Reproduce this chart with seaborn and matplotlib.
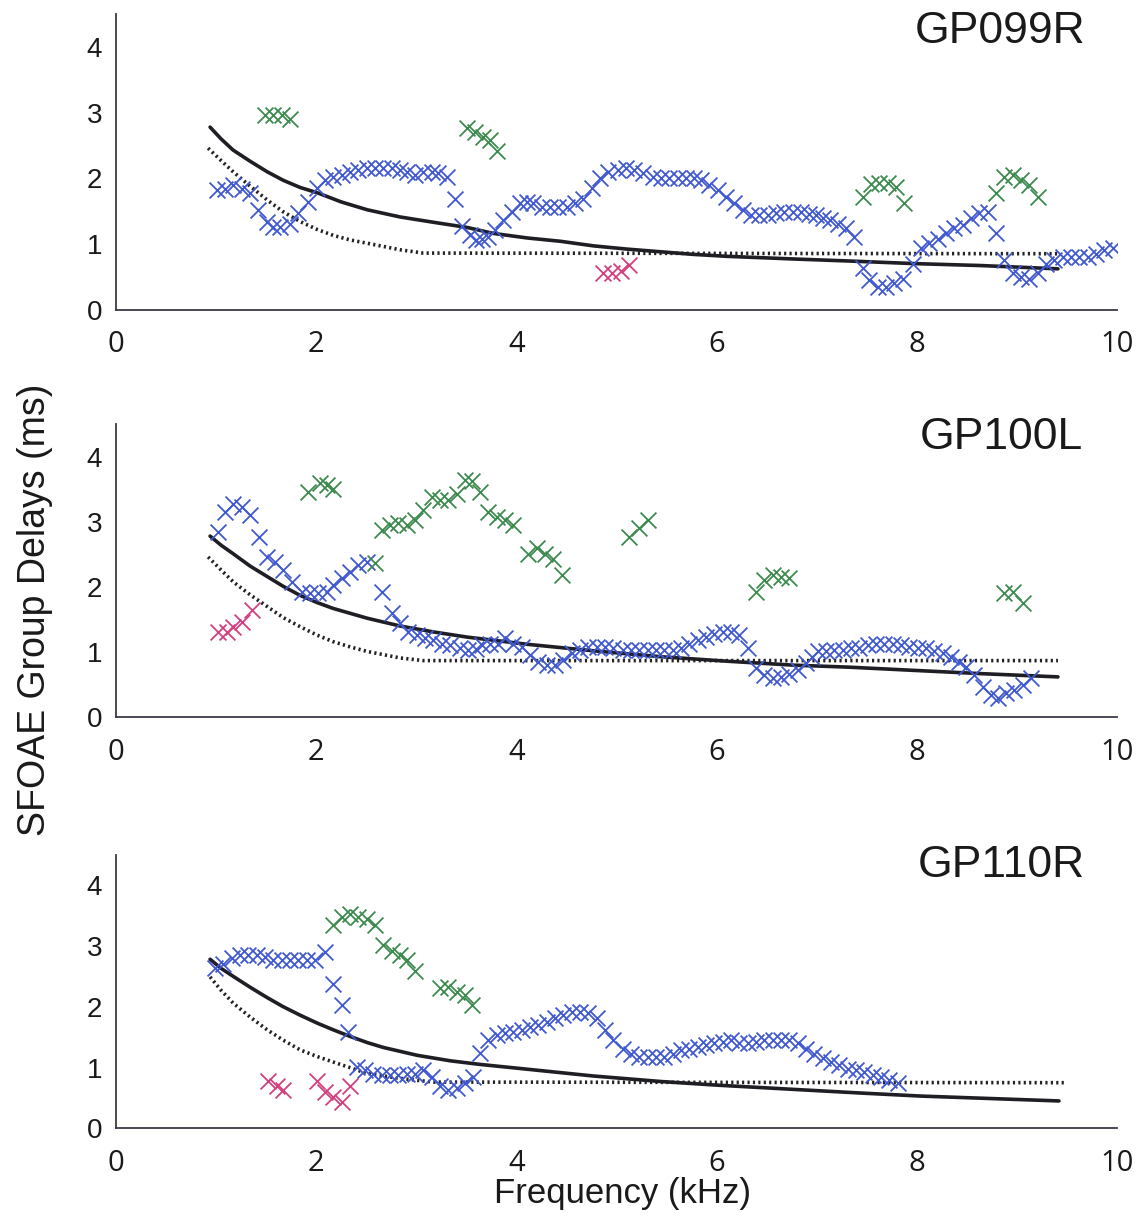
import matplotlib
matplotlib.use("Agg")
import matplotlib.pyplot as plt
import seaborn as sns
import pandas as pd

# ---------------- data ----------------
panel_names = ["GP099R", "GP100L", "GP110R"]

# GP099R
p1_blue_f = [1.01, 1.09, 1.17, 1.26, 1.34, 1.42, 1.51, 1.57, 1.64, 1.74, 1.82, 1.92, 2.01, 2.09, 2.17, 2.26,
             2.34, 2.42, 2.51, 2.59, 2.67, 2.76, 2.84, 2.91, 2.99, 3.07, 3.16, 3.22, 3.31, 3.39, 3.46, 3.54,
             3.60, 3.66, 3.72, 3.79, 3.87, 3.96, 4.04, 4.11, 4.17, 4.26, 4.34, 4.42, 4.51, 4.59, 4.67, 4.76,
             4.84, 4.92, 5.01, 5.09, 5.17, 5.26, 5.36, 5.44, 5.52, 5.61, 5.69, 5.77, 5.84, 5.92, 6.01, 6.09,
             6.17, 6.26, 6.34, 6.42, 6.51, 6.59, 6.67, 6.76, 6.84, 6.92, 6.99, 7.06, 7.13, 7.21, 7.29, 7.37,
             7.46, 7.52, 7.61, 7.69, 7.77, 7.86, 7.96, 8.04, 8.12, 8.21, 8.29, 8.37, 8.46, 8.54, 8.62, 8.71,
             8.79, 8.87, 8.96, 9.04, 9.12, 9.21, 9.29, 9.37, 9.46, 9.54, 9.62, 9.71, 9.79, 9.87, 9.96]
p1_blue_d = [1.82, 1.84, 1.90, 1.84, 1.77, 1.52, 1.34, 1.26, 1.26, 1.31, 1.47, 1.64, 1.85, 1.97, 2.02, 2.05,
             2.10, 2.13, 2.15, 2.15, 2.15, 2.15, 2.13, 2.10, 2.05, 2.09, 2.09, 2.08, 2.02, 1.69, 1.27, 1.13,
             1.06, 1.08, 1.11, 1.21, 1.36, 1.49, 1.62, 1.64, 1.62, 1.57, 1.57, 1.57, 1.57, 1.62, 1.69, 1.85,
             2.00, 2.10, 2.13, 2.15, 2.13, 2.08, 2.02, 2.00, 2.00, 2.00, 2.00, 2.00, 1.97, 1.90, 1.82, 1.72,
             1.62, 1.52, 1.44, 1.44, 1.44, 1.47, 1.49, 1.49, 1.49, 1.46, 1.44, 1.39, 1.36, 1.31, 1.24, 1.11,
             0.63, 0.45, 0.35, 0.35, 0.40, 0.47, 0.70, 0.93, 1.01, 1.08, 1.16, 1.24, 1.29, 1.39, 1.47, 1.49,
             1.16, 0.75, 0.55, 0.50, 0.47, 0.55, 0.70, 0.75, 0.80, 0.80, 0.80, 0.80, 0.85, 0.90, 0.93]
p1_green_f = [1.49, 1.57, 1.66, 1.74, 3.51, 3.59, 3.67, 3.74, 3.81, 7.46, 7.54, 7.62, 7.71, 7.79, 7.87,
              8.79, 8.87, 8.96, 9.04, 9.12, 9.21]
p1_green_d = [2.96, 2.96, 2.96, 2.91, 2.77, 2.70, 2.63, 2.58, 2.41, 1.72, 1.92, 1.93, 1.93, 1.86, 1.62,
              1.77, 2.02, 2.05, 1.97, 1.90, 1.72]
p1_mag_f = [4.87, 4.96, 5.04, 5.12]
p1_mag_d = [0.55, 0.55, 0.58, 0.68]
p1_solid_f = [0.94, 1.05, 1.17, 1.34, 1.51, 1.67, 1.84, 2.01, 2.25, 2.51, 2.84, 3.17, 3.51, 3.77, 4.11, 4.44,
              4.77, 5.11, 5.44, 5.77, 6.11, 6.44, 6.77, 7.31, 7.97, 8.64, 9.41]
p1_solid_d = [2.78, 2.60, 2.43, 2.26, 2.10, 1.97, 1.86, 1.78, 1.64, 1.52, 1.41, 1.33, 1.25, 1.16, 1.09, 1.04,
              0.97, 0.92, 0.88, 0.84, 0.81, 0.79, 0.77, 0.74, 0.70, 0.67, 0.62]
p1_dot_f = [0.92, 1.05, 1.17, 1.34, 1.51, 1.67, 1.84, 2.01, 2.17, 2.34, 2.51, 2.84, 3.07, 9.41]
p1_dot_d = [2.46, 2.27, 2.10, 1.88, 1.67, 1.49, 1.34, 1.22, 1.13, 1.06, 1.01, 0.91, 0.86, 0.85]

# GP100L
p2_blue_f = [1.02, 1.09, 1.17, 1.26, 1.34, 1.43, 1.51, 1.59, 1.67, 1.76, 1.86, 1.94, 2.02, 2.11, 2.17, 2.26,
             2.34, 2.42, 2.51, 2.66, 2.76, 2.84, 2.92, 3.01, 3.09, 3.17, 3.26, 3.34, 3.44, 3.52, 3.60, 3.66,
             3.74, 3.82, 3.89, 3.97, 4.06, 4.14, 4.22, 4.31, 4.39, 4.47, 4.56, 4.64, 4.72, 4.81, 4.89, 4.97,
             5.06, 5.14, 5.22, 5.31, 5.39, 5.47, 5.56, 5.64, 5.72, 5.81, 5.89, 5.97, 6.06, 6.14, 6.22, 6.31,
             6.39, 6.47, 6.56, 6.64, 6.72, 6.81, 6.89, 6.95, 7.01, 7.09, 7.17, 7.26, 7.34, 7.42, 7.51, 7.59,
             7.67, 7.76, 7.84, 7.92, 8.01, 8.09, 8.17, 8.26, 8.34, 8.42, 8.49, 8.57, 8.66, 8.74, 8.81, 8.89,
             8.97, 9.06, 9.14]
p2_blue_d = [2.85, 3.15, 3.28, 3.23, 3.10, 2.77, 2.46, 2.39, 2.26, 2.08, 1.93, 1.90, 1.90, 1.93, 2.03, 2.13,
             2.23, 2.34, 2.39, 1.93, 1.60, 1.44, 1.31, 1.26, 1.21, 1.18, 1.13, 1.11, 1.06, 1.03, 1.05, 1.11,
             1.13, 1.13, 1.21, 1.13, 1.08, 0.95, 0.85, 0.80, 0.80, 0.88, 0.98, 1.03, 1.08, 1.08, 1.08, 1.06,
             1.03, 1.03, 1.03, 1.03, 1.03, 1.03, 1.03, 1.06, 1.13, 1.18, 1.23, 1.28, 1.31, 1.31, 1.26, 1.06,
             0.75, 0.65, 0.60, 0.62, 0.67, 0.72, 0.83, 0.93, 1.01, 1.01, 1.03, 1.03, 1.06, 1.06, 1.11, 1.13,
             1.13, 1.13, 1.11, 1.08, 1.06, 1.06, 1.01, 0.98, 0.93, 0.85, 0.77, 0.65, 0.47, 0.34, 0.29, 0.37,
             0.42, 0.49, 0.60]
p2_green_f = [1.92, 2.04, 2.11, 2.17, 2.59, 2.66, 2.74, 2.82, 2.91, 2.99, 3.07, 3.16, 3.24, 3.32, 3.41, 3.49,
              3.56, 3.64, 3.72, 3.81, 3.89, 3.97, 4.12, 4.21, 4.29, 4.37, 4.46, 5.12, 5.22, 5.31,
              6.39, 6.47, 6.56, 6.64, 6.72, 8.87, 8.96, 9.06]
p2_green_d = [3.46, 3.59, 3.56, 3.51, 2.36, 2.87, 2.95, 2.98, 2.95, 3.03, 3.18, 3.38, 3.33, 3.33, 3.43, 3.64,
              3.62, 3.46, 3.15, 3.08, 3.03, 2.95, 2.51, 2.59, 2.51, 2.43, 2.18, 2.77, 2.90, 3.03,
              1.93, 2.10, 2.18, 2.15, 2.13, 1.90, 1.92, 1.75]
p2_mag_f = [1.02, 1.11, 1.17, 1.26, 1.36]
p2_mag_d = [1.31, 1.31, 1.38, 1.46, 1.64]
p2_solid_f = [0.94, 1.05, 1.17, 1.34, 1.51, 1.67, 1.84, 2.01, 2.17, 2.51, 2.84, 3.17, 3.51, 4.11, 4.77, 5.44,
              6.11, 6.77, 7.31, 7.97, 8.64, 9.41]
p2_solid_d = [2.78, 2.64, 2.51, 2.32, 2.16, 2.01, 1.87, 1.76, 1.67, 1.52, 1.40, 1.31, 1.23, 1.12, 1.02, 0.93,
              0.86, 0.80, 0.77, 0.72, 0.67, 0.62]
p2_dot_f = [0.92, 1.05, 1.17, 1.34, 1.51, 1.67, 1.84, 2.01, 2.17, 2.34, 2.51, 2.84, 3.07, 9.41]
p2_dot_d = [2.46, 2.26, 2.08, 1.88, 1.70, 1.53, 1.39, 1.26, 1.16, 1.08, 1.01, 0.91, 0.87, 0.87]

# GP110R
p3_blue_f = [0.99, 1.07, 1.16, 1.24, 1.32, 1.41, 1.49, 1.57, 1.66, 1.74, 1.82, 1.91, 1.99, 2.09, 2.17, 2.26,
             2.32, 2.41, 2.49, 2.57, 2.66, 2.74, 2.82, 2.91, 2.99, 3.07, 3.16, 3.24, 3.32, 3.41, 3.49, 3.57,
             3.64, 3.72, 3.81, 3.89, 3.97, 4.06, 4.14, 4.22, 4.31, 4.39, 4.47, 4.56, 4.64, 4.72, 4.81, 4.89,
             4.97, 5.06, 5.14, 5.22, 5.31, 5.39, 5.47, 5.56, 5.64, 5.72, 5.81, 5.89, 5.97, 6.06, 6.14, 6.22,
             6.31, 6.39, 6.47, 6.56, 6.64, 6.72, 6.81, 6.89, 6.97, 7.06, 7.14, 7.22, 7.31, 7.39, 7.47, 7.56,
             7.64, 7.72, 7.81]
p3_blue_d = [2.63, 2.71, 2.80, 2.85, 2.85, 2.85, 2.82, 2.77, 2.77, 2.77, 2.77, 2.77, 2.77, 2.90, 2.38, 2.03,
             1.59, 1.01, 0.96, 0.90, 0.88, 0.88, 0.88, 0.90, 0.90, 0.96, 0.85, 0.69, 0.63, 0.66, 0.74, 0.85,
             1.24, 1.45, 1.53, 1.56, 1.59, 1.62, 1.67, 1.70, 1.75, 1.81, 1.86, 1.92, 1.92, 1.89, 1.81, 1.62,
             1.45, 1.31, 1.23, 1.18, 1.18, 1.18, 1.18, 1.23, 1.29, 1.31, 1.34, 1.37, 1.40, 1.42, 1.45, 1.40,
             1.40, 1.42, 1.45, 1.45, 1.45, 1.45, 1.40, 1.31, 1.23, 1.15, 1.09, 1.04, 0.98, 0.96, 0.93, 0.88,
             0.85, 0.79, 0.74]
p3_green_f = [2.17, 2.26, 2.34, 2.42, 2.51, 2.59, 2.67, 2.76, 2.84, 2.91, 2.99, 3.24, 3.32, 3.41, 3.49, 3.56]
p3_green_d = [3.34, 3.48, 3.53, 3.48, 3.45, 3.34, 3.02, 2.92, 2.85, 2.77, 2.59, 2.30, 2.33, 2.25, 2.19, 2.03]
p3_mag_f = [1.52, 1.61, 1.67, 2.01, 2.09, 2.17, 2.26, 2.34]
p3_mag_d = [0.77, 0.69, 0.63, 0.77, 0.60, 0.52, 0.44, 0.69]
p3_solid_f = [0.94, 1.05, 1.17, 1.34, 1.51, 1.67, 1.84, 2.01, 2.17, 2.34, 2.51, 2.67, 3.01, 3.34, 3.64, 4.00,
              4.77, 5.44, 6.00, 6.77, 7.44, 8.04, 9.42]
p3_solid_d = [2.78, 2.63, 2.50, 2.32, 2.15, 2.00, 1.86, 1.73, 1.62, 1.51, 1.41, 1.33, 1.20, 1.11, 1.05, 0.99,
              0.86, 0.77, 0.71, 0.64, 0.58, 0.53, 0.45]
p3_dot_f = [0.94, 1.05, 1.17, 1.34, 1.51, 1.67, 1.84, 2.01, 2.17, 2.37, 2.51, 2.84, 3.17, 9.47]
p3_dot_d = [2.49, 2.27, 2.06, 1.83, 1.62, 1.45, 1.29, 1.18, 1.09, 0.98, 0.90, 0.82, 0.76, 0.75]

panels = [
    dict(blue=(p1_blue_f, p1_blue_d), green=(p1_green_f, p1_green_d), mag=(p1_mag_f, p1_mag_d),
         solid=(p1_solid_f, p1_solid_d), dot=(p1_dot_f, p1_dot_d)),
    dict(blue=(p2_blue_f, p2_blue_d), green=(p2_green_f, p2_green_d), mag=(p2_mag_f, p2_mag_d),
         solid=(p2_solid_f, p2_solid_d), dot=(p2_dot_f, p2_dot_d)),
    dict(blue=(p3_blue_f, p3_blue_d), green=(p3_green_f, p3_green_d), mag=(p3_mag_f, p3_mag_d),
         solid=(p3_solid_f, p3_solid_d), dot=(p3_dot_f, p3_dot_d)),
]

x_ticks = [0, 2, 4, 6, 8, 10]
y_ticks = [0, 1, 2, 3, 4]

# ---------------- style ----------------
sns.set_theme(style="white")
plt.rcParams["font.family"] = ["Liberation Sans", "DejaVu Sans"]

W, H = 1141, 1220
fig = plt.figure(figsize=(W / 100, H / 100), dpi=100)

# axes boxes in pixels: (left, top, right, bottom)
boxes = [(116, 14.3, 1117, 309.5), (116, 424, 1117, 717.3), (116, 854.7, 1117, 1128.3)]
title_pos = [(1000, 43), (1001, 449), (1001, 877)]   # baseline positions

C_BLUE = "#4058d0"
C_GREEN = "#3c8a4e"
C_MAG = "#d43f80"
C_AX = "#3a3a48"

for i, (box, p) in enumerate(zip(boxes, panels)):
    l, t, r, b = box
    ax = fig.add_axes([l / W, 1 - b / H, (r - l) / W, (b - t) / H])
    ax.set_facecolor("none")

    sns.lineplot(x=p["dot"][0], y=p["dot"][1], ax=ax, color="#222222", lw=2.6,
                 linestyle=(0, (0.6, 0.9)), sort=False, estimator=None)
    sns.lineplot(x=p["solid"][0], y=p["solid"][1], ax=ax, color="#1e1e24", lw=2.6,
                 sort=False, estimator=None)
    for key, col in (("blue", C_BLUE), ("green", C_GREEN), ("mag", C_MAG)):
        sns.scatterplot(x=p[key][0], y=p[key][1], ax=ax, marker="x", color=col,
                        s=130, linewidth=1.3, zorder=3)

    ax.set_xlim(0, 10)
    ax.set_ylim(0, 4.5)
    ax.set_xticks(x_ticks)
    ax.set_yticks(y_ticks)
    ax.set_xticklabels([str(v) for v in x_ticks], fontfamily="Open Sans", fontsize=21, color="#1a1a1a")
    ax.set_yticklabels([str(v) for v in y_ticks], fontfamily="Liberation Sans", fontsize=20, color="#1a1a1a")
    ax.tick_params(axis="x", direction="in", length=7, width=1.2, color=C_AX, pad=15)
    ax.tick_params(axis="y", direction="in", length=6, width=1.2, color=C_AX, pad=10)
    for s in ("top", "right"):
        ax.spines[s].set_visible(False)
    for s in ("left", "bottom"):
        ax.spines[s].set_color(C_AX)
        ax.spines[s].set_linewidth(1.3)
    ax.set_xlabel("")
    ax.set_ylabel("")

    tx, ty = title_pos[i]
    fig.text(tx / W, 1 - ty / H, panel_names[i], ha="center", va="baseline",
             fontsize=32, color="#1a1a1a", fontfamily="Liberation Sans")

fig.text(35 / W, 1 - 610 / H, "SFOAE Group Delays (ms)", rotation=90, ha="center", va="center",
         fontsize=27, color="#1a1a1a", fontfamily="Liberation Sans")
fig.text(623 / W, 1 - 1193 / H, "Frequency (kHz)", ha="center", va="center",
         fontsize=25, color="#1a1a1a", fontfamily="Liberation Sans")

fig.savefig("out.png", dpi=100, facecolor="white")
